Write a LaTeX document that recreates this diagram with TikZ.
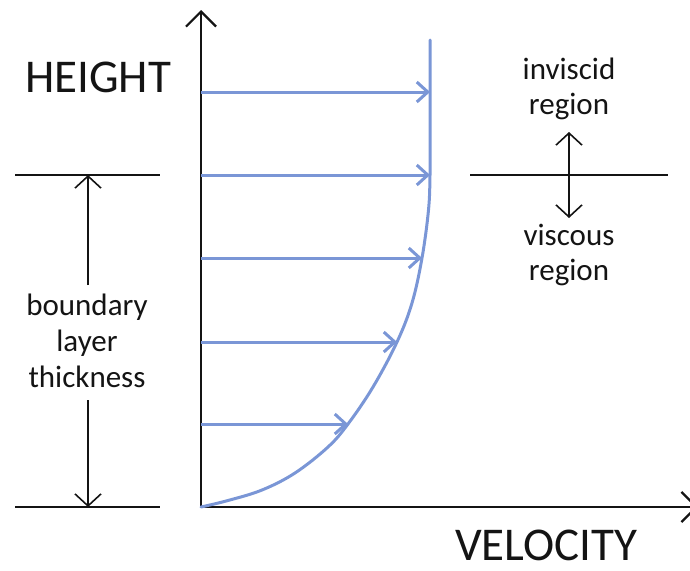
\documentclass[tikz,border=0pt]{standalone}
\usepackage{fontspec}
\setmainfont{Carlito}
\usetikzlibrary{arrows.meta}
\definecolor{prof}{RGB}{122,150,214}
\definecolor{ink}{RGB}{20,20,20}
\begin{document}
\begin{tikzpicture}[x=1pt,y=-1pt,
  axisline/.style={line width=2.2pt, draw=ink, -{Straight Barb[length=15pt,width=30pt]}},
  profline/.style={line width=3pt, draw=prof, line cap=round, line join=round},
  profarrow/.style={line width=3pt, draw=prof, -{Straight Barb[length=11pt,width=20pt]}},
  levelline/.style={line width=1.8pt, draw=ink},
  dimarrow/.style={line width=1.6pt, draw=ink, -{Straight Barb[length=12pt,width=26pt]}},
  big/.style={font=\fontsize{47}{50}\selectfont, text=ink, inner sep=0pt},
  small/.style={font=\fontsize{31}{36}\selectfont, text=ink, inner sep=0pt, anchor=base}
]
\useasboundingbox (0,0) rectangle (690,570);

% axes
\coordinate (O) at (201,507);
\coordinate (ytip) at (201,10);
\coordinate (xtip) at (698,507);
\draw[axisline] (O) -- (ytip);
\draw[axisline] (O) -- (xtip);

% velocity profile
\coordinate (p0) at (430,40);
\coordinate (p1) at (430,92);
\coordinate (p2) at (430,175);
\coordinate (p3) at (422,258);
\coordinate (p4) at (397,342);
\coordinate (p5) at (348,424);
\draw[profline] (p0) -- (430,140) plot[smooth, tension=0.6] coordinates {(430,140) (p2) (428.5,210) (p3) (412,303) (p4) (373,387) (p5) (328,447) (295,473) (262,490) (228,500.5) (O)};

\coordinate (s1) at (201,92);
\coordinate (s2) at (201,175);
\coordinate (s3) at (201,258);
\coordinate (s4) at (201,342);
\coordinate (s5) at (201,424);
\draw[profarrow] (s1) -- (p1);
\draw[profarrow] (s2) -- (p2);
\draw[profarrow] (s3) -- (p3);
\draw[profarrow] (s4) -- (p4);
\draw[profarrow] (s5) -- (p5);

% axis labels
\node[big, anchor=base west] (hlab) at (25,92) {HEIGHT};
\node[big, anchor=base west] (vlab) at (455,560) {VELOCITY};

% boundary layer thickness
\coordinate (lt1) at (15,175);
\coordinate (lt2) at (160,175);
\coordinate (lb1) at (15,507);
\coordinate (lb2) at (160,507);
\draw[levelline] (lt1) -- (lt2);
\draw[levelline] (lb1) -- (lb2);
\coordinate (bt) at (88,175);
\coordinate (bb) at (88,507);
\node[small] (b1) at (87,315) {boundary};
\node[small] (b2) at (87,351) {layer};
\node[small] (b3) at (87,387) {thickness};
\coordinate (ga) at (88,285);
\coordinate (gb) at (88,400);
\draw[dimarrow] (ga) -- (bt);
\draw[dimarrow] (gb) -- (bb);

% regions
\coordinate (rl1) at (470,175);
\coordinate (rl2) at (668,175);
\draw[levelline] (rl1) -- (rl2);
\node[small] (i1) at (569,79) {inviscid};
\node[small] (i2) at (569,114) {region};
\node[small] (v1) at (569,245) {viscous};
\node[small] (v2) at (569,280) {region};
\coordinate (ia) at (569,132);
\coordinate (va) at (569,218);
\draw[dimarrow, {Straight Barb[length=12pt,width=26pt]}-{Straight Barb[length=12pt,width=26pt]}] (ia) -- (va);
\end{tikzpicture}
\end{document}
